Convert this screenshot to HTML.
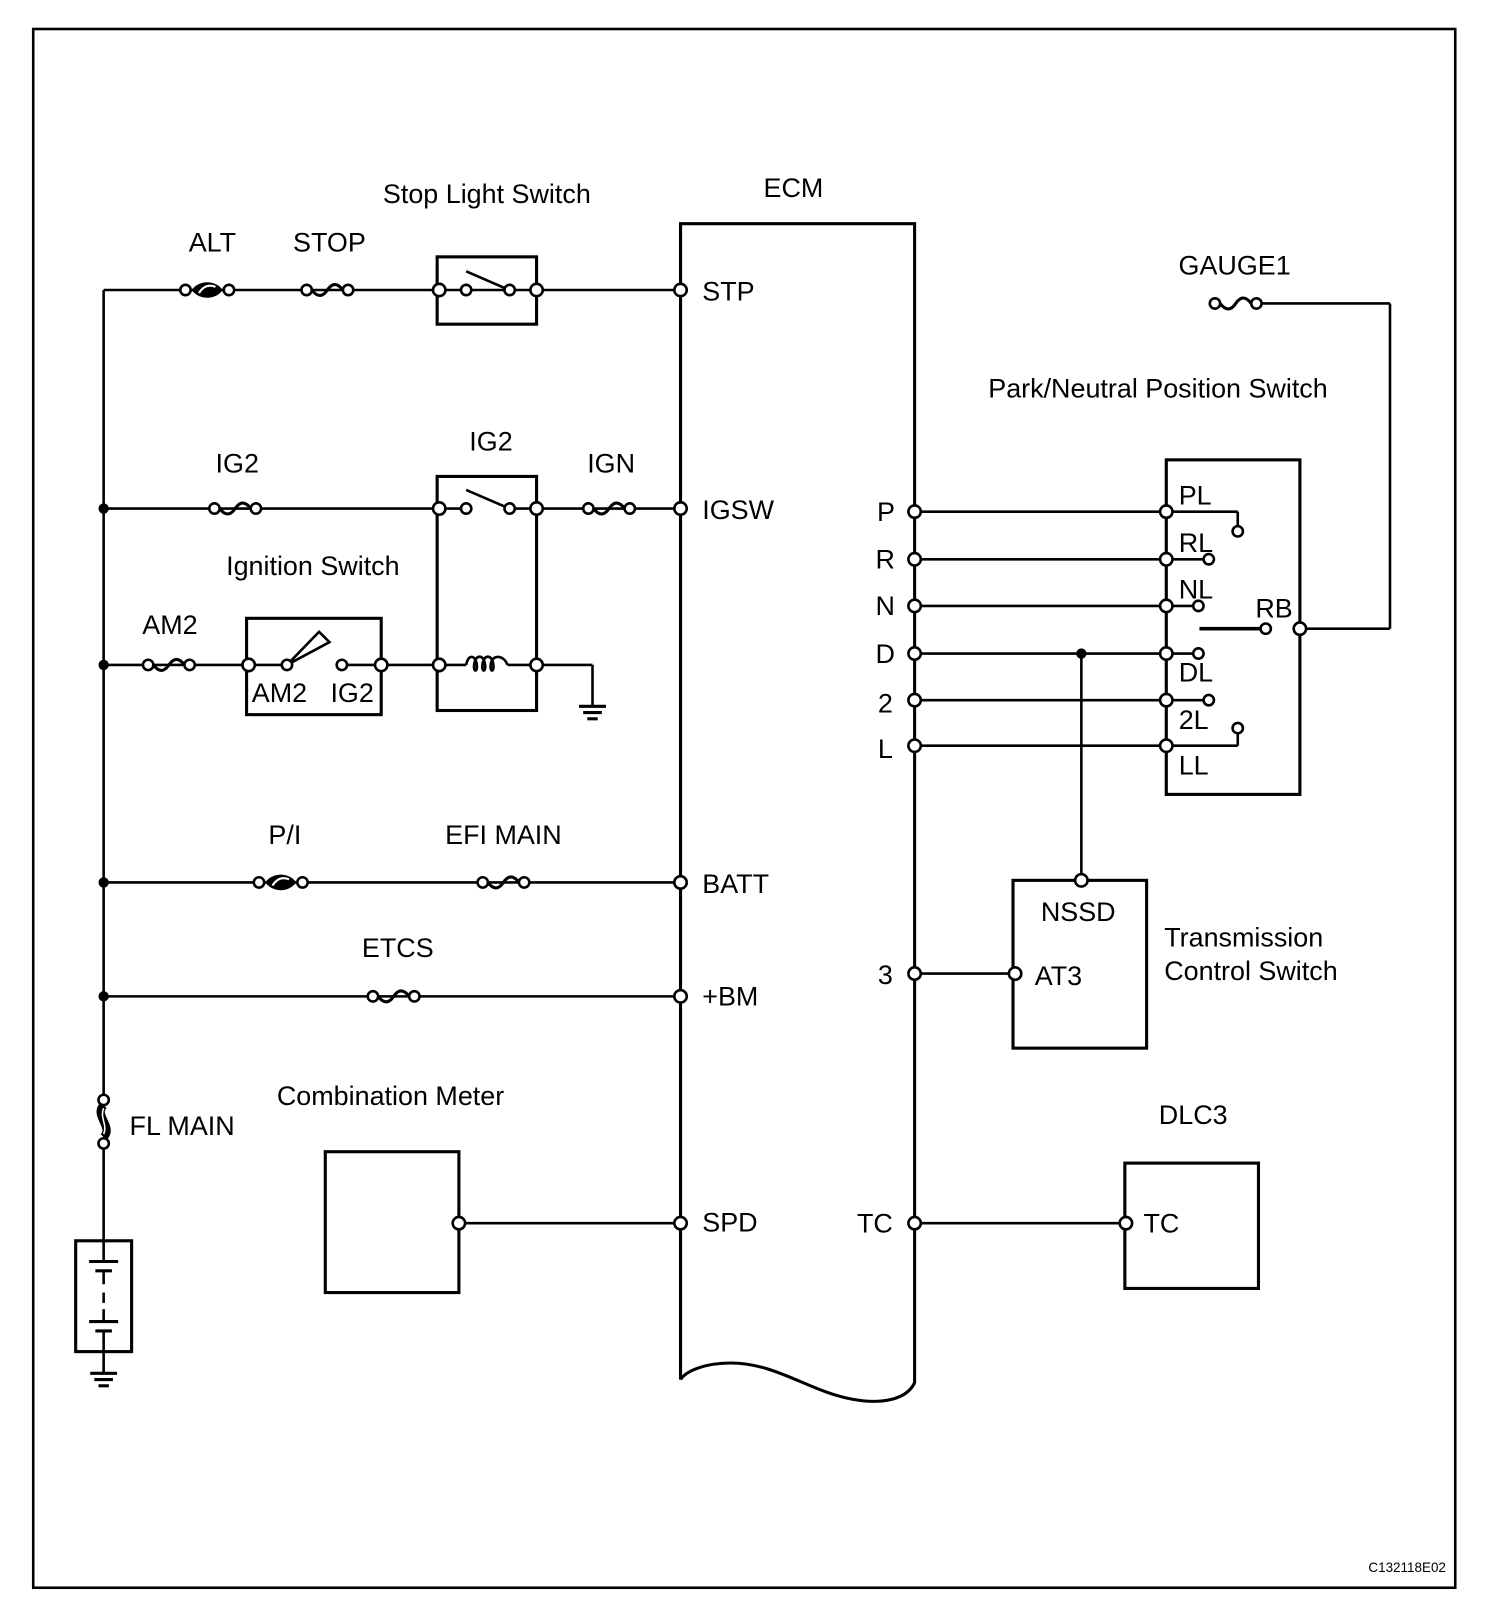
<!DOCTYPE html>
<html><head><meta charset="utf-8">
<style>
html,body{margin:0;padding:0;background:#fff;}
svg{display:block;}
text{font-family:"Liberation Sans",Arial,sans-serif;font-size:26px;fill:#000;}
</style></head>
<body>
<svg width="1504" height="1624" viewBox="0 0 1452 1568" xmlns="http://www.w3.org/2000/svg">
<defs>
  <g id="fuse">
    <path d="M-15,0 C-9,8 -4,6 0,0 S9,-8 15,0" fill="none" stroke="#000" stroke-width="3"/>
    <circle cx="-20" cy="0" r="5" fill="#fff" stroke="#000" stroke-width="2.5"/>
    <circle cx="20" cy="0" r="5" fill="#fff" stroke="#000" stroke-width="2.5"/>
  </g>
  <g id="flink">
    <path d="M-15,0 C-8,-10 8,-10 15,0 C8,10 -8,10 -15,0Z" fill="#000"/>
    <path d="M-8,3 C-3,-5 3,-5 8,-3" fill="none" stroke="#fff" stroke-width="2"/>
    <circle cx="-21" cy="0" r="5" fill="#fff" stroke="#000" stroke-width="2.5"/>
    <circle cx="21" cy="0" r="5" fill="#fff" stroke="#000" stroke-width="2.5"/>
  </g>
  <circle id="t" r="6" fill="#fff" stroke="#000" stroke-width="2.5"/>
  <circle id="ts" r="5" fill="#fff" stroke="#000" stroke-width="2.5"/>
  <circle id="dot" r="5" fill="#000"/>
  <g id="gnd">
    <line x1="-13" y1="0" x2="13" y2="0" stroke="#000" stroke-width="3"/>
    <line x1="-9" y1="6" x2="9" y2="6" stroke="#000" stroke-width="3"/>
    <line x1="-5" y1="12" x2="5" y2="12" stroke="#000" stroke-width="3"/>
  </g>
</defs>

<rect x="32" y="28" width="1373" height="1505" fill="none" stroke="#000" stroke-width="2.5"/>

<g stroke="#000" stroke-width="2.5" fill="none">
  <line x1="100" y1="280" x2="100" y2="1060"/>
  <line x1="100" y1="1105" x2="100" y2="1198"/>
  <line x1="100" y1="1305" x2="100" y2="1325"/>
  <line x1="100" y1="280" x2="657" y2="280"/>
  <line x1="100" y1="491" x2="450" y2="491"/>
  <line x1="492" y1="491" x2="657" y2="491"/>
  <line x1="100" y1="642" x2="277" y2="642"/>
  <line x1="330" y1="642" x2="450" y2="642"/>
  <line x1="490" y1="642" x2="572" y2="642"/>
  <line x1="572" y1="642" x2="572" y2="682"/>
  <line x1="100" y1="852" x2="657" y2="852"/>
  <line x1="100" y1="962" x2="657" y2="962"/>
  <line x1="443" y1="1181" x2="657" y2="1181"/>
  <line x1="883" y1="494" x2="1195" y2="494"/>
  <line x1="1195" y1="494" x2="1195" y2="508"/>
  <line x1="883" y1="540" x2="1162" y2="540"/>
  <line x1="883" y1="585" x2="1152" y2="585"/>
  <line x1="883" y1="631" x2="1152" y2="631"/>
  <line x1="883" y1="676" x2="1162" y2="676"/>
  <line x1="883" y1="720" x2="1195" y2="720"/>
  <line x1="1195" y1="720" x2="1195" y2="708"/>
  <line x1="1044" y1="631" x2="1044" y2="850"/>
  <line x1="883" y1="940" x2="980" y2="940"/>
  <line x1="883" y1="1181" x2="1087" y2="1181"/>
  <line x1="1213" y1="293" x2="1342" y2="293"/>
  <line x1="1342" y1="293" x2="1342" y2="607"/>
  <line x1="1342" y1="607" x2="1255" y2="607"/>
  <line x1="1158" y1="607" x2="1222" y2="607" stroke-width="3.5"/>
  <line x1="1126" y1="444" x2="1126" y2="767"/>
</g>

<g stroke="#000" stroke-width="3" fill="none">
  <rect x="422" y="248" width="96" height="65"/>
  <rect x="422" y="460" width="96" height="226"/>
  <rect x="238" y="597" width="130" height="93"/>
  <rect x="1126" y="444" width="129" height="323"/>
  <rect x="978" y="850" width="129" height="162"/>
  <rect x="1086" y="1123" width="129" height="121"/>
  <rect x="314" y="1112" width="129" height="136"/>
  <rect x="73" y="1198" width="54" height="107"/>
  <path d="M657,1332 L657,216 L883,216 L883,1335 C875,1352 850,1356 823,1351 C780,1343 750,1316 705,1316 C680,1316 662,1324 657,1332"/>
</g>

<g stroke="#000" stroke-width="2.5" fill="none">
  <line x1="450" y1="262" x2="487" y2="278"/>
  <line x1="450" y1="473" x2="487" y2="489"/>
  <path d="M450,642 C452,632 458,632 460,640 C462,650 456,650 458,640 C460,632 466,632 468,640 C470,650 464,650 466,640 C468,632 474,632 476,640 C478,650 472,650 474,640 C476,632 486,632 490,642"/>
  <path d="M277,642 L308,610 L318,620 Z" fill="#fff"/>
  <line x1="100" y1="1198" x2="100" y2="1218"/>
  <line x1="86" y1="1218" x2="114" y2="1218" stroke-width="3"/>
  <line x1="92" y1="1227" x2="108" y2="1227" stroke-width="3"/>
  <line x1="100" y1="1227" x2="100" y2="1240"/>
  <line x1="100" y1="1248" x2="100" y2="1258"/>
  <line x1="100" y1="1264" x2="100" y2="1276"/>
  <line x1="86" y1="1276" x2="114" y2="1276" stroke-width="3"/>
  <line x1="92" y1="1285" x2="108" y2="1285" stroke-width="3"/>
  <line x1="100" y1="1285" x2="100" y2="1305"/>
  <path d="M100,1067 C90,1077 110,1088 100,1098" stroke-width="8"/>
  <path d="M100,1070 C96,1079 104,1086 100,1095" stroke="#fff" stroke-width="1.5"/>
</g>
<use href="#ts" x="100" y="1062"/>
<use href="#ts" x="100" y="1104"/>
<use href="#gnd" x="100" y="1326"/>
<use href="#gnd" x="572" y="682"/>

<use href="#flink" x="200" y="280"/>
<use href="#fuse" x="316" y="280"/>
<use href="#fuse" x="227" y="491"/>
<use href="#fuse" x="588" y="491"/>
<use href="#fuse" x="163" y="642"/>
<use href="#flink" x="271" y="852"/>
<use href="#fuse" x="486" y="852"/>
<use href="#fuse" x="380" y="962"/>
<use href="#fuse" x="1193" y="293"/>

<use href="#t" x="424" y="280"/><use href="#ts" x="450" y="280"/><use href="#ts" x="492" y="280"/><use href="#t" x="518" y="280"/>
<use href="#t" x="424" y="491"/><use href="#ts" x="450" y="491"/><use href="#ts" x="492" y="491"/><use href="#t" x="518" y="491"/>
<use href="#t" x="240" y="642"/><use href="#ts" x="277" y="642"/><use href="#ts" x="330" y="642"/><use href="#t" x="368" y="642"/>
<use href="#t" x="424" y="642"/><use href="#t" x="518" y="642"/>
<use href="#t" x="657" y="280"/><use href="#t" x="657" y="491"/><use href="#t" x="657" y="852"/><use href="#t" x="657" y="962"/><use href="#t" x="657" y="1181"/>
<use href="#t" x="883" y="494"/><use href="#t" x="883" y="540"/><use href="#t" x="883" y="585"/><use href="#t" x="883" y="631"/><use href="#t" x="883" y="676"/><use href="#t" x="883" y="720"/><use href="#t" x="883" y="940"/><use href="#t" x="883" y="1181"/>
<use href="#t" x="1126" y="494"/><use href="#t" x="1126" y="540"/><use href="#t" x="1126" y="585"/><use href="#t" x="1126" y="631"/><use href="#t" x="1126" y="676"/><use href="#t" x="1126" y="720"/>
<use href="#ts" x="1195" y="513"/><use href="#ts" x="1167" y="540"/><use href="#ts" x="1157" y="585"/><use href="#ts" x="1157" y="631"/><use href="#ts" x="1167" y="676"/><use href="#ts" x="1195" y="703"/>
<use href="#ts" x="1222" y="607"/><use href="#t" x="1255" y="607"/>
<use href="#t" x="1044" y="850"/><use href="#t" x="980" y="940"/><use href="#t" x="1087" y="1181"/><use href="#t" x="443" y="1181"/>
<use href="#dot" x="100" y="491"/><use href="#dot" x="100" y="642"/><use href="#dot" x="100" y="852"/><use href="#dot" x="100" y="962"/><use href="#dot" x="1044" y="631"/>

<text x="470" y="196" text-anchor="middle">Stop Light Switch</text>
<text x="205" y="243" text-anchor="middle">ALT</text>
<text x="318" y="243" text-anchor="middle">STOP</text>
<text x="766" y="190" text-anchor="middle">ECM</text>
<text x="1192" y="265" text-anchor="middle">GAUGE1</text>
<text x="1118" y="384" text-anchor="middle">Park/Neutral Position Switch</text>
<text x="229" y="456" text-anchor="middle">IG2</text>
<text x="474" y="435" text-anchor="middle">IG2</text>
<text x="590" y="456" text-anchor="middle">IGN</text>
<text x="302" y="555" text-anchor="middle">Ignition Switch</text>
<text x="164" y="612" text-anchor="middle">AM2</text>
<text x="243" y="678">AM2</text>
<text x="319" y="678">IG2</text>
<text x="275" y="815" text-anchor="middle">P/I</text>
<text x="486" y="815" text-anchor="middle">EFI MAIN</text>
<text x="384" y="924" text-anchor="middle">ETCS</text>
<text x="377" y="1067" text-anchor="middle">Combination Meter</text>
<text x="125" y="1096">FL MAIN</text>
<text x="1152" y="1085" text-anchor="middle">DLC3</text>
<text x="678" y="290">STP</text>
<text x="678" y="501">IGSW</text>
<text x="678" y="862">BATT</text>
<text x="678" y="971">+BM</text>
<text x="678" y="1189">SPD</text>
<text x="864" y="503" text-anchor="end">P</text>
<text x="864" y="549" text-anchor="end">R</text>
<text x="864" y="594" text-anchor="end">N</text>
<text x="864" y="640" text-anchor="end">D</text>
<text x="862" y="688" text-anchor="end">2</text>
<text x="862" y="732" text-anchor="end">L</text>
<text x="862" y="950" text-anchor="end">3</text>
<text x="862" y="1190" text-anchor="end">TC</text>
<text x="1138" y="487">PL</text>
<text x="1138" y="533">RL</text>
<text x="1138" y="578">NL</text>
<text x="1212" y="596">RB</text>
<text x="1138" y="658">DL</text>
<text x="1138" y="704">2L</text>
<text x="1138" y="748">LL</text>
<text x="1041" y="889" text-anchor="middle">NSSD</text>
<text x="999" y="951">AT3</text>
<text x="1124" y="914">Transmission</text>
<text x="1124" y="946">Control Switch</text>
<text x="1104" y="1190">TC</text>
<text x="1396" y="1518" text-anchor="end" style="font-size:13px">C132118E02</text>
</svg>
</body></html>
